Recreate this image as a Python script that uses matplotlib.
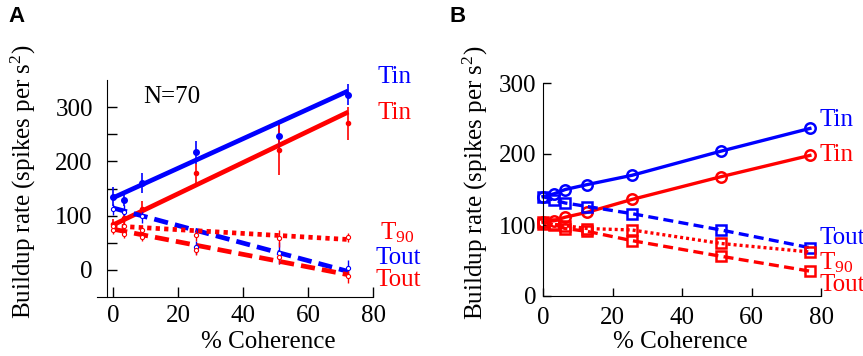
import matplotlib
matplotlib.use("Agg")
import matplotlib.pyplot as plt

plt.rcParams['font.family'] = ['Liberation Serif', 'DejaVu Serif']
plt.rcParams['mathtext.fontset'] = 'custom'
plt.rcParams['mathtext.rm'] = 'Liberation Serif'
plt.rcParams['mathtext.it'] = 'Liberation Serif:italic'

BLUE = '#0000ff'
RED = '#ff0000'

# ---------------- Panel A data ----------------
coh_a = [0, 3.2, 9, 25.6, 51.2, 72.4]
tin_blue_a = [135, 129, 160, 217, 247, 323]
tin_blue_err = [17, 12, 18, 21, 30, 20]
tin_red_a = [85, 95, 112, 178, 221, 270]
tin_red_err = [8, 10, 15, 17, 46, 31]
tout_blue_a = [112, 107, 99, 42, 31, 4]
tout_blue_err = [10, 12, 12, 12, 20, 15]
tout_red_a = [74, 67, 61, 37, 23, -12]
tout_red_err = [8, 8, 8, 10, 12, 12]
t90_red_a = [80, 80, 74, 64, 58, 60]
t90_red_err = [8, 12, 8, 10, 15, 8]

fit_x_a = [0, 72.4]
fit_tin_blue = [133, 330]
fit_tin_red = [83, 291]
fit_tout_blue = [114, -3]
fit_tout_red = [75, -9]
fit_t90_red = [81, 56]

# ---------------- Panel B data ----------------
coh_b = [0, 3.2, 6.4, 12.8, 25.6, 51.2, 76.8]
tin_blue_b = [140, 144, 150, 157, 170, 204, 236]
tin_red_b = [104, 106, 111, 118, 136, 168, 198]
tout_blue_b = [140, 135, 131, 126, 116, 93, 68]
t90_red_b = [102, 101, 99, 95, 93, 74, 62]
tout_red_b = [104, 100, 95, 91, 78, 56, 35]

W, H = 863, 356
fig = plt.figure(figsize=(W / 100, H / 100), dpi=100)


def px_ax(l, r, t, b):
    return fig.add_axes([l / W, 1 - b / H, (r - l) / W, (b - t) / H])


FS = 18

# ---------------- Panel A ----------------
axA = px_ax(97, 373, 80, 297)
axA.set_xlim(-5, 80)
axA.set_ylim(-50, 350)
for s in ('top', 'right'):
    axA.spines[s].set_visible(False)
axA.spines['left'].set_position(('data', -2))
axA.set_yticks([0, 50, 100, 150, 200, 250, 300])
axA.set_yticklabels(['0', '', '100', '', '200', '', '300'])
axA.set_xticks([0, 20, 40, 60, 80])
axA.tick_params(direction='in', length=7, width=1, labelsize=FS)
axA.tick_params(axis='y', pad=10)
axA.tick_params(axis='x', pad=6)
axA.set_xlabel('% Coherence', fontsize=FS)
axA.set_ylabel('Buildup rate (spikes per s$^2$)', fontsize=FS)
axA.xaxis.set_label_coords((268 - 97) / 276, (297 - 342) / 217)
axA.xaxis.label.set_va('center')
axA.yaxis.set_label_coords((23 - 97) / 276, (297 - 182) / 217)
axA.yaxis.label.set_va('center')

axA.plot(fit_x_a, fit_tin_blue, color=BLUE, lw=3.4, solid_capstyle='butt')
axA.plot(fit_x_a, fit_tin_red, color=RED, lw=3.4, solid_capstyle='butt')
axA.plot(fit_x_a, fit_tout_blue, color=BLUE, lw=3.4, ls=(0, (3, 1.5)))
axA.plot(fit_x_a, fit_tout_red, color=RED, lw=3.4, ls=(0, (3, 1.5)))
axA.plot(fit_x_a, fit_t90_red, color=RED, lw=3.4, ls=(0, (0.9, 0.9)))

axA.errorbar(coh_a, tin_blue_a, yerr=tin_blue_err, fmt='o', color=BLUE, ms=4, elinewidth=1.2, capsize=0)
axA.errorbar(coh_a, tin_red_a, yerr=tin_red_err, fmt='o', color=RED, ms=3, elinewidth=1.2, capsize=0)
axA.errorbar(coh_a, tout_blue_a, yerr=tout_blue_err, fmt='o', color=BLUE, mfc='white', ms=3, mew=0.8, elinewidth=1.0, capsize=0)
axA.errorbar(coh_a, tout_red_a, yerr=tout_red_err, fmt='o', color=RED, mfc='white', ms=3, mew=0.8, elinewidth=1.0, capsize=0)
axA.errorbar(coh_a, t90_red_a, yerr=t90_red_err, fmt='o', color=RED, mfc='white', ms=3, mew=0.8, elinewidth=1.0, capsize=0)

axA.text((143 - 97) / 276, (297 - 97) / 217, 'N=70', transform=axA.transAxes, fontsize=FS, va='center', ha='left')


def ftext(x, y, s, color, **kw):
    fig.text(x / W, 1 - y / H, s, color=color, fontsize=FS, va='center', ha='left', **kw)


ftext(377, 77, 'Tin', BLUE)
ftext(377, 113, 'Tin', RED)
ftext(380, 233, 'T$_{90}$', RED)
ftext(375, 258, 'Tout', BLUE)
ftext(375, 280, 'Tout', RED)

# ---------------- Panel B ----------------
axB = px_ax(543, 821, 83, 296)
axB.set_xlim(0, 80)
axB.set_ylim(0, 300)
for s in ('top', 'right'):
    axB.spines[s].set_visible(False)
axB.set_yticks([0, 100, 200, 300])
axB.set_xticks([0, 20, 40, 60, 80])
axB.tick_params(direction='in', length=6, width=1, labelsize=FS)
axB.tick_params(axis='y', pad=5)
axB.tick_params(axis='x', pad=8)
axB.set_xlabel('% Coherence', fontsize=FS)
axB.set_ylabel('Buildup rate (spikes per s$^2$)', fontsize=FS)
axB.xaxis.set_label_coords((680 - 543) / 278, (296 - 342) / 213)
axB.xaxis.label.set_va('center')
axB.yaxis.set_label_coords((475 - 543) / 278, (296 - 183) / 213)
axB.yaxis.label.set_va('center')

mk = dict(ms=7.5, mew=1.8, mfc='none', clip_on=False)
axB.plot(coh_b, tin_blue_b, color=BLUE, lw=2.4, marker='o', **mk)
axB.plot(coh_b, tin_red_b, color=RED, lw=2.4, marker='o', **mk)
axB.plot(coh_b, tout_blue_b, color=BLUE, lw=2.4, marker='s', ls=(0, (3, 1.6)), **mk)
axB.plot(coh_b, t90_red_b, color=RED, lw=2.4, marker='s', ls=(0, (0.9, 0.9)), **mk)
axB.plot(coh_b, tout_red_b, color=RED, lw=2.4, marker='s', ls=(0, (3, 1.6)), **mk)

ftext(819, 120, 'Tin', BLUE)
ftext(819, 155, 'Tin', RED)
ftext(819, 238, 'Tout', BLUE)
ftext(819, 263, 'T$_{90}$', RED)
ftext(819, 285, 'Tout', RED)

# panel letters
fig.text(8 / W, 1 - 16 / H, 'A', fontsize=16, fontweight='bold', family='Liberation Sans', va='center', ha='left')
fig.text(449 / W, 1 - 17 / H, 'B', fontsize=16, fontweight='bold', family='Liberation Sans', va='center', ha='left')

fig.savefig('out.png', dpi=100)
